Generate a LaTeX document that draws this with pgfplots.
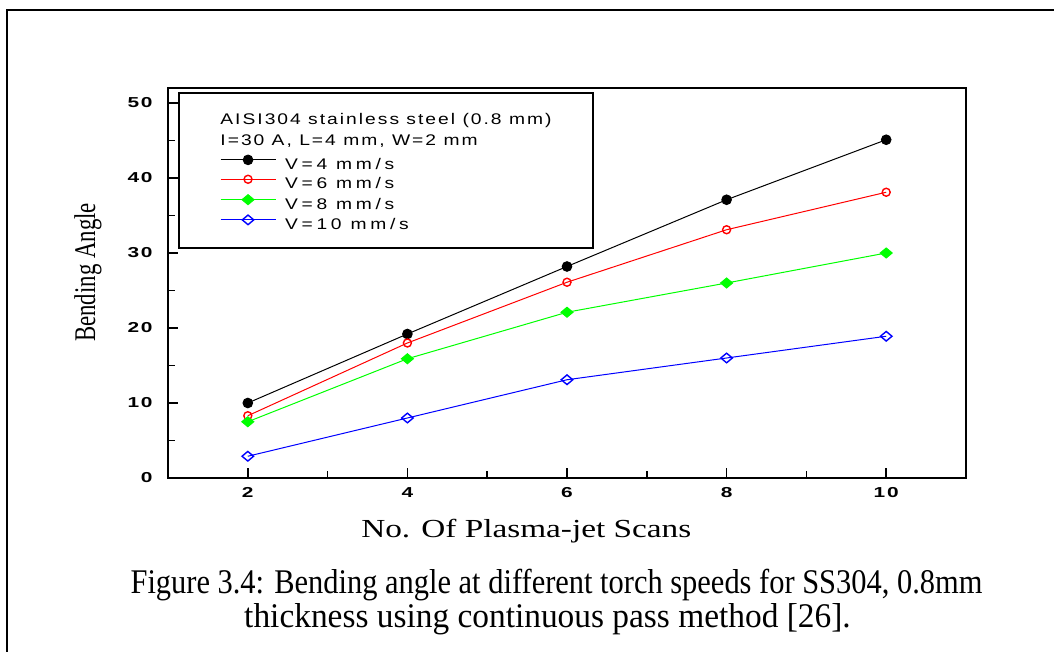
\documentclass[border=0pt]{standalone}
\usepackage{fontspec}
\usepackage{pgfplots}
\pgfplotsset{compat=1.18}
\setmainfont{Liberation Serif}
\newfontfamily\tickfont[FakeStretch=1.45,LetterSpace=12]{Liberation Sans}
\newfontfamily\legfont[FakeStretch=1.25,LetterSpace=13]{Liberation Sans}
\newfontfamily\legfontb[FakeStretch=1.25,LetterSpace=24]{Liberation Sans}
\newfontfamily\xlabfont[FakeStretch=1.28]{Liberation Serif}
\newfontfamily\ylabfont[FakeStretch=0.76]{Liberation Serif}
\newfontfamily\capfont[FakeStretch=0.88]{Liberation Serif}
\newfontfamily\capfontb[FakeStretch=0.965]{Liberation Serif}
\definecolor{cgreen}{RGB}{0,255,0}
\definecolor{cblue}{RGB}{0,0,255}
\definecolor{cred}{RGB}{255,0,0}
\begin{document}
\begin{tikzpicture}
\useasboundingbox (0,0) rectangle (527pt,326pt);
\draw[line width=1pt] (3.5pt,0pt) -- (3.5pt,321pt) -- (527pt,321pt);
\begin{axis}[
  at={(84pt,87pt)}, anchor=south west,
  scale only axis, width=399pt, height=195pt,
  xmin=1, xmax=11, ymin=0, ymax=52,
  axis line style={line width=1pt},
  tick align=inside, xtick pos=bottom, ytick pos=left,
  major tick length=5pt, minor tick length=3.5pt,
  tick style={black, line width=0.8pt},
  xtick={2,4,6,8,10}, xticklabels={2,4,6,8,10},
  ytick={0,10,20,30,40,50}, yticklabels={0,10,20,30,40,50},
  minor x tick num=1, minor y tick num=1,
  tick label style={font=\tickfont\bfseries\fontsize{7.2}{8}\selectfont},
  xticklabel style={inner sep=0pt, anchor=north, yshift=-4.5pt},
  yticklabel style={inner sep=0pt, anchor=east, xshift=-7.5pt},
  xlabel={\xlabfont\fontsize{13}{15}\selectfont No. Of Plasma-jet Scans},
  ylabel={\ylabfont\fontsize{15}{18}\selectfont Bending Angle},
  every axis x label/.style={at={(axis description cs:0.449,-0.1513)}, anchor=base},
  every axis y label/.style={at={(axis description cs:-0.1003,0.527)}, rotate=90, anchor=center},
  legend style={at={(axis description cs:0.0652,0.828)}, anchor=north west,
    draw=none, fill=none, inner sep=0pt, outer sep=0pt, row sep=2.6pt,
    nodes={inner sep=0pt, text height=5.7pt, text depth=0.3pt,
      font=\legfontb\fontsize{7.7}{9}\selectfont}},
  legend cell align=left,
  legend image code/.code={%
    \draw[mark repeat=2,mark phase=2,#1] plot coordinates {(0pt,2.1pt) (13.75pt,2.1pt) (27.5pt,2.1pt)};
    \path (32pt,2.1pt);},
]
\addplot[black, line width=0.5pt, mark=*, mark size=2.4pt] coordinates {(2,10) (4,19.2) (6,28.2) (8,37.1) (10,45.1)};
\addlegendentry{V=4 mm/s}
\addplot[cred, line width=0.5pt, mark=o, mark size=2pt, mark options={line width=0.7pt}] coordinates {(2,8.3) (4,18) (6,26.1) (8,33.1) (10,38.1)};
\addlegendentry{V=6 mm/s}
\addplot[cgreen, line width=0.5pt, mark=diamond*, mark size=2.5pt, mark options={xscale=1.6}] coordinates {(2,7.5) (4,15.9) (6,22.1) (8,26) (10,30)};
\addlegendentry{V=8 mm/s}
\addplot[cblue, line width=0.5pt, mark=diamond, mark size=2.4pt, mark options={xscale=1.6, line width=0.7pt}] coordinates {(2,2.9) (4,8) (6,13.1) (8,16) (10,18.9)};
\addlegendentry{V=10 mm/s}
\end{axis}
\draw[line width=1pt] (89.5pt,202pt) rectangle (296.5pt,279.5pt);
\node[anchor=base west, inner sep=0pt] at (110pt,263.75pt) {\legfont\fontsize{7.7}{9}\selectfont AISI304 stainless steel (0.8 mm)};
\node[anchor=base west, inner sep=0pt] at (110pt,253.25pt) {\legfont\fontsize{7.7}{9}\selectfont I=30 A, L=4 mm, W=2 mm};
\node[anchor=base, inner sep=0pt] at (278.25pt,29pt) {\capfont\fontsize{17.3}{20}\selectfont Figure 3.4: Bending angle at different torch speeds for SS304, 0.8mm};
\node[anchor=base, inner sep=0pt] at (273.75pt,12pt) {\capfontb\fontsize{17.3}{20}\selectfont thickness using continuous pass method [26].};
\end{tikzpicture}
\end{document}
